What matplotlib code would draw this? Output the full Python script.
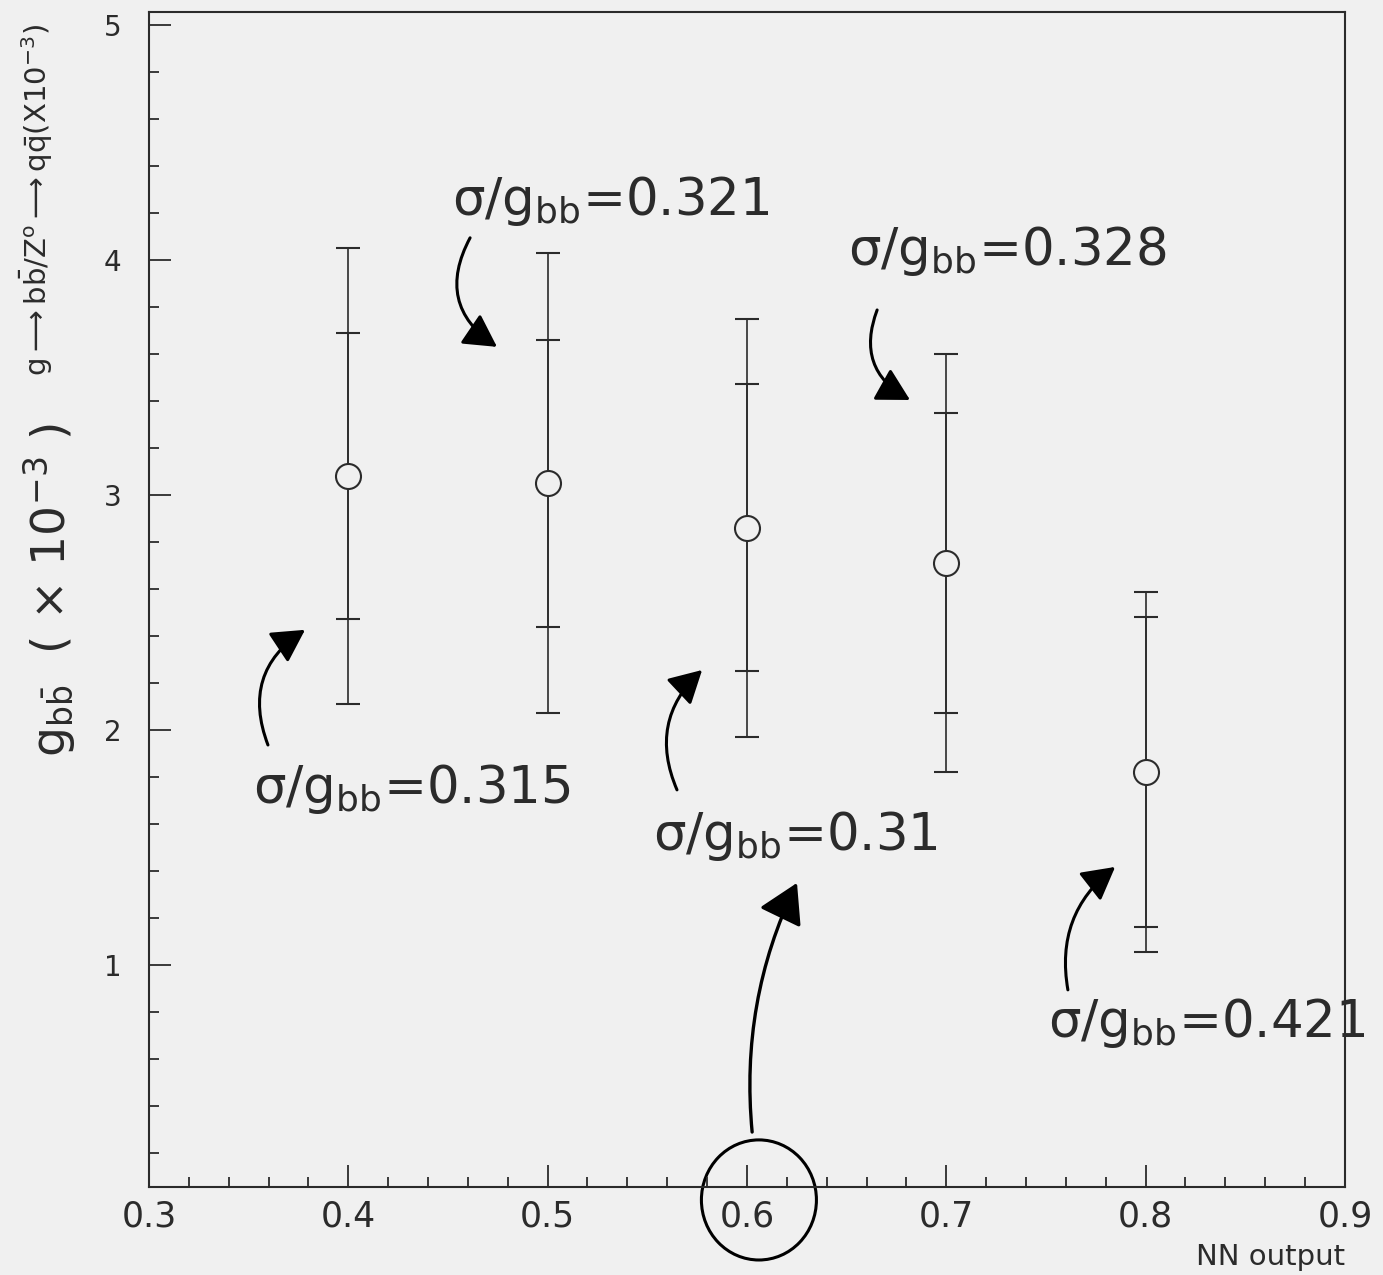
import matplotlib
matplotlib.use("Agg")
import matplotlib.pyplot as plt
from matplotlib.patches import Ellipse
from matplotlib.ticker import MultipleLocator

# values
nn_cut = [0.4, 0.5, 0.6, 0.7, 0.8]
g_bb = [3.08, 3.05, 2.86, 2.71, 1.82]
err_total = [0.97, 0.98, 0.89, 0.89, 0.765]
err_stat = [0.61, 0.61, 0.61, 0.64, 0.66]
ratio_labels = ["0.315", "0.321", "0.31", "0.328", "0.421"]

# where the hand-written notes sit (text baseline-left, arrow tail, arrow tip, curvature)
notes = [
    ((0.3522, 1.689), (0.3597, 1.936), (0.3783, 2.426), -0.4),
    ((0.452, 4.191), (0.4611, 4.094), (0.4746, 3.630), 0.45),
    ((0.5529, 1.489), (0.5649, 1.745), (0.5775, 2.255), -0.35),
    ((0.6507, 3.979), (0.6653, 3.787), (0.6818, 3.404), 0.43),
    ((0.7511, 0.694), (0.761, 0.894), (0.7847, 1.417), -0.3),
]

ink = "#2b2b2b"
paper = "#f0f0f0"

plt.rcParams["font.family"] = ["DejaVu Sans"]
plt.rcParams["mathtext.fontset"] = "dejavusans"

fig = plt.figure(figsize=(13.83, 12.75), dpi=100, facecolor=paper)
ax = fig.add_axes([0.1077, 0.069, 0.8648, 0.9216], facecolor=paper)

ax.errorbar(nn_cut, g_bb, yerr=err_total, fmt="none", ecolor=ink,
            elinewidth=1.2, capsize=8.5, capthick=1.5, zorder=2)
ax.errorbar(nn_cut, g_bb, yerr=err_stat, fmt="none", ecolor=ink,
            elinewidth=1.2, capsize=8.5, capthick=1.5, zorder=2)
ax.plot(nn_cut, g_bb, "o", ms=18, mfc=paper, mec=ink, mew=1.5, zorder=3)

ax.set_xlim(0.3, 0.9)
ax.set_ylim(0.055, 5.055)
ax.xaxis.set_major_locator(MultipleLocator(0.1))
ax.xaxis.set_minor_locator(MultipleLocator(0.02))
ax.yaxis.set_major_locator(MultipleLocator(1))
ax.yaxis.set_minor_locator(MultipleLocator(0.2))
ax.tick_params(which="both", direction="in", top=False, right=False,
               color=ink, width=1.3)
ax.tick_params(which="major", length=16)
ax.tick_params(which="minor", length=7)
ax.tick_params(axis="x", labelsize=25, pad=9, labelcolor=ink)
ax.tick_params(axis="y", labelsize=20, pad=20, labelcolor=ink)
ax.xaxis.set_major_formatter(lambda v, p: f"{v:.1f}")
ax.yaxis.set_major_formatter(lambda v, p: f"{v:.0f}")
for s in ax.spines.values():
    s.set_color(ink)
    s.set_linewidth(1.5)

for lab, (txt_xy, tail, tip, rad) in zip(ratio_labels, notes):
    ax.text(txt_xy[0], txt_xy[1], "σ/g$_{\\mathrm{bb}}$=" + lab, fontsize=37,
            color=ink, ha="left", va="baseline", clip_on=False)
    ax.annotate("", xy=tip, xytext=tail, annotation_clip=False,
                arrowprops=dict(arrowstyle="-|>,head_length=1.0,head_width=0.55",
                                connectionstyle=f"arc3,rad={rad}", lw=2.2,
                                color="black", mutation_scale=20,
                                shrinkA=0, shrinkB=0))

# long arrow from the circled 0.6 label
ax.annotate("", xy=(0.6251, 1.349), xytext=(0.6026, 0.289), annotation_clip=False,
            arrowprops=dict(arrowstyle="-|>,head_length=1.1,head_width=0.65",
                            connectionstyle="arc3,rad=-0.14", lw=2.4,
                            color="black", mutation_scale=22,
                            shrinkA=0, shrinkB=0))
ax.add_patch(Ellipse((0.606, 0.0), 0.0577, 0.511, fill=False, ec="black",
                     lw=2.2, clip_on=False))

fig.text(0.036, 0.537, r"g$_{\mathrm{b\bar{b}}}$  ( × 10$^{-3}$ )", rotation=90,
         fontsize=34, color=ink, ha="center", va="center")
fig.text(0.026, 0.843,
         r"g$\longrightarrow$b$\bar{\mathrm{b}}$/Z$^{\mathrm{o}}$$\longrightarrow$q$\bar{\mathrm{q}}$(X10$^{-3}$)",
         rotation=90, fontsize=21, color=ink, ha="center", va="center")
fig.text(0.9725, 0.014, "NN output", fontsize=21, color=ink,
         ha="right", va="center")

fig.savefig("out.png", dpi=100, facecolor=paper)
